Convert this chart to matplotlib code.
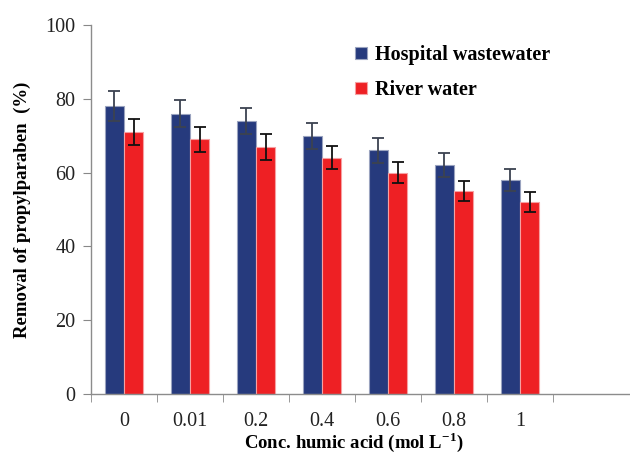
import matplotlib
matplotlib.use("Agg")
import matplotlib.pyplot as plt
import numpy as np

categories = ["0", "0.01", "0.2", "0.4", "0.6", "0.8", "1"]
hospital = [78, 76, 74, 70, 66, 62, 58]
hospital_err = [4.0, 3.7, 3.6, 3.5, 3.4, 3.3, 2.9]
river = [71, 69, 67, 64, 60, 55, 52]
river_err = [3.5, 3.5, 3.5, 3.1, 2.9, 2.6, 2.7]
series_names = ["Hospital wastewater", "River water"]

plt.rcParams['font.family'] = ['Liberation Serif', 'DejaVu Serif']

fig = plt.figure(figsize=(6.3, 4.55), dpi=100)
ax = fig.add_axes([0.1444, 0.134, 0.854, 0.811])

x = np.arange(len(categories))
w = 0.29
blue = "#263a7d"
red = "#ee2024"

ax.bar(x - w/2, hospital, w, color=blue, edgecolor="#9aa3bf", linewidth=0.8,
       label=series_names[0], zorder=2)
ax.bar(x + w/2, river, w, color=red, edgecolor="#f6a0a2", linewidth=0.8,
       label=series_names[1], zorder=2)
ax.errorbar(x - w/2, hospital, yerr=hospital_err, fmt="none", ecolor="#3c4250",
            elinewidth=1.3, capsize=4, capthick=1.3, zorder=3)
ax.errorbar(x + w/2, river, yerr=river_err, fmt="none", ecolor="#111111",
            elinewidth=1.3, capsize=4, capthick=1.3, zorder=3)

ax.set_xlim(-0.5, 7.65)
ax.set_ylim(0, 100)
ax.set_yticks(np.arange(0, 101, 20))
ax.set_xticks(x)
ax.set_xticklabels(categories)
ax.set_xticks(np.arange(-0.5, 7.0, 1.0), minor=True)
ax.tick_params(axis="x", which="major", length=0, pad=13, labelsize=14.5)
ax.tick_params(axis="x", which="minor", length=6, color="#888888", direction="out")
ax.tick_params(axis="y", length=6, color="#888888", labelsize=14.5, pad=5)
for lab in ax.get_xticklabels() + ax.get_yticklabels():
    lab.set_color("#222222")

for s in ["top", "right"]:
    ax.spines[s].set_visible(False)
for s in ["left", "bottom"]:
    ax.spines[s].set_color("#8c8c8c")
    ax.spines[s].set_linewidth(1.0)

ax.set_ylabel("Removal of propylparaben  (%)", fontsize=13.5, fontweight="bold")
ax.yaxis.set_label_coords(-0.128, 0.5)
ax.set_xlabel("Conc. humic acid (mol L$^{\\mathregular{-1}}$)", fontsize=13.5, fontweight="bold")
ax.xaxis.set_label_coords(0.488, -0.131)
ax.xaxis.label.set_va("center")
ax.yaxis.label.set_va("center")

leg = ax.legend(loc="upper left", bbox_to_anchor=(0.457, 0.995), frameon=False,
                prop={"family": "Liberation Serif", "weight": "bold", "size": 14.5},
                handlelength=0.6, handleheight=0.6, handletextpad=0.4,
                labelspacing=0.75)

fig.savefig("out.png", dpi=100)
